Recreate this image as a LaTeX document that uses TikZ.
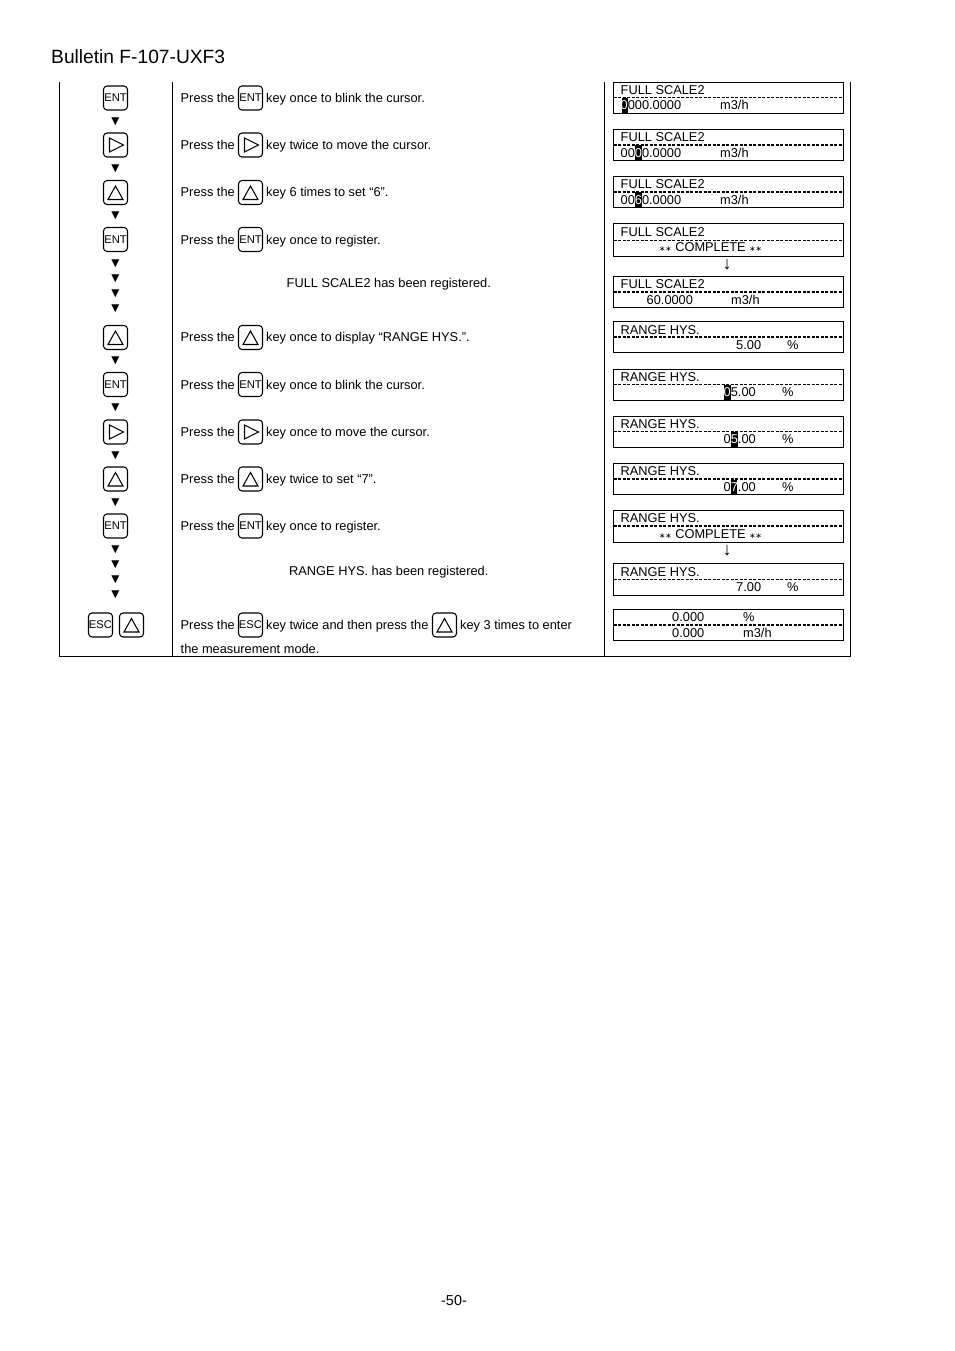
\documentclass[tikz,border=0pt]{standalone}
\usepackage{fontspec}
\usepackage{xcolor}
\setmainfont{Liberation Sans}
\newfontfamily\symfont{DejaVu Sans}
\usetikzlibrary{calc}
\tikzset{
 txt/.style={anchor=base west, inner sep=0, font=\fontsize{12.8}{15}\selectfont},
 keybox/.style={draw, rounded corners=3.5, minimum size=24, inner sep=0, outer sep=0, line width=1.05, font=\fontsize{11.2}{13}\selectfont},
 glyph/.style={draw, line width=1.05, line join=miter},
 stepmark/.style={inner sep=0, font=\symfont\fontsize{10.5}{12}\selectfont},
 cell/.style={draw, line width=.9, inner sep=0, outer sep=0, anchor=north west, minimum width=230},
}
\newcommand{\wt}[1]{\textcolor{white}{#1}}
\begin{document}
\begin{tikzpicture}[x=1pt,y=-1pt]
\useasboundingbox (0,0) rectangle (954,1351);
\node[txt, font=\fontsize{19.2}{22}\selectfont] (title) at (51,63.5) {Bulletin F-107-UXF3};
\node[txt, anchor=base, font=\fontsize{14.4}{16}\selectfont] (pageno) at (454,1305) {-50-};
\draw[line width=.9] (59.5,82)--(59.5,656.5)--(850.5,656.5)--(850.5,82);
\draw[line width=.9] (172.5,82)--(172.5,656.5);
\draw[line width=.9] (604.5,82)--(604.5,656.5);
\foreach \n/\x/\y/\t in {a/115.5/98/ENT,b/115.5/239.5/ENT,c/115.5/384.5/ENT,d/115.5/526/ENT,e/250.5/98/ENT,f/250.5/239.5/ENT,g/250.5/384.5/ENT,h/250.5/526/ENT,i/100.5/625/ESC,j/250.5/625/ESC} {
 \node[keybox] (key\n) at (\x,\y) {\t};
}
\foreach \n/\x/\y in {a/115.5/145,b/115.5/432,c/250.5/145,d/250.5/432} {
 \node[keybox] (right\n) at (\x,\y) {};
 \draw[glyph] ($(right\n)+(-6,-7)$)--++(0,14)--++(14,-7)--cycle;
}
\foreach \n/\x/\y in {a/115.5/192.5,b/115.5/337.5,c/115.5/479,d/131.5/625,e/250.5/192.5,f/250.5/337.5,g/250.5/479,h/444.5/625} {
 \node[keybox] (up\n) at (\x,\y) {};
 \draw[glyph] ($(up\n)+(0,-6.5)$)--++(7.5,13.5)--++(-15,0)--cycle;
}
\foreach \y in {122,169,216,264,279,294,309,361,408,456,503,550,565,580,595} {
 \node[stepmark] (mark\y) at (115.5,\y) {▼};
}
\foreach \y/\t in {102.5/key once to blink the cursor.,149.5/key twice to move the cursor.,196.7/key 6 times to set “6”.,244/key once to register.,341/key once to display “RANGE HYS.”.,389/key once to blink the cursor.,436/key once to move the cursor.,483/key twice to set “7”.,530/key once to register.} {
 \node[txt] (press\y) at (180.5,\y) {Press the};
 \node[txt] (act\y) at (266,\y) {\t};
}
\node[txt] (pressend) at (180.5,629.5) {Press the};
\node[txt] (actend) at (266,629.5) {key twice and then press the};
\node[txt] (actmore) at (460,629.5) {key 3 times to enter};
\node[txt] (actlast) at (180.5,653) {the measurement mode.};
\node[txt] (regfull) at (286.5,287) {FULL SCALE2 has been registered.};
\node[txt] (regrange) at (289,575) {RANGE HYS. has been registered.};
\foreach \x/\ya/\yb in {621.5/98/113.5,635/145.5/160,635/192.5/207.5,724/385/400,731/432/447,730.5/479.5/494} {
 \fill (\x,\ya) rectangle ++(6.8,\yb-\ya);
}
\foreach \n/\ya/\ym/\yb/\lw/\yt/\t in {a/82/97.7/113.5/1.2/94.5/FULL SCALE2,b/129.5/145/160.5/1.2/141.5/FULL SCALE2,c/176.5/192/207.5/1.2/188.5/FULL SCALE2,d/223.5/240/256/.7/236/FULL SCALE2,e/276.5/292/307.5/1.2/288/FULL SCALE2,f/321.5/337/352.5/1.2/334/RANGE HYS.,g/369/384.5/400.5/.7/381/RANGE HYS.,h/416/431.5/447.5/1.2/428/RANGE HYS.,i/463/479/494.5/1.2/475/RANGE HYS.,j/510/526/542/1.2/522.5/RANGE HYS.,k/563/579/595/.7/576/RANGE HYS.} {
 \node[cell, minimum height=\yb-\ya] (lcd\n) at (613.5,\ya) {};
 \draw[line width=\lw, dash pattern=on 3 off 1.5] (lcd\n.west |- 0,\ym)--(lcd\n.east |- 0,\ym);
 \node[txt] (name\n) at (620.5,\yt) {\t};
}
\node[cell, minimum height=31] (lcdl) at (613.5,609) {};
\draw[line width=1.2, dash pattern=on 3 off 1.5] (lcdl.west |- 0,625)--(lcdl.east |- 0,625);
\foreach \n/\x/\y/\t in {a/620.5/109.5/{\wt{0}000.0000},b/620.5/157.5/{00\wt{0}0.0000},c/620.5/204.5/{00\wt{6}0.0000},e/646.5/304/60.0000,f/736/349/5.00,g/723.5/396/{\wt{0}5.00},h/723.5/443/{0\wt{5}.00},i/723.5/491/{0\wt{7}.00},k/736/591/7.00,l/672/621.5/0.000,m/672/637/0.000} {
 \node[txt] (val\n) at (\x,\y) {\t};
}
\foreach \n/\x/\y/\t in {a/720/109.5/{m3/h},b/720/157.5/{m3/h},c/720/204.5/{m3/h},e/731/304/{m3/h},f/787/349/\%,g/782/396/\%,h/782/443/\%,i/782/491/\%,k/787/591/\%,l/743/621.5/\%,m/743/637/{m3/h}} {
 \node[txt] (unit\n) at (\x,\y) {\t};
}
\foreach \n/\y in {a/251,b/538} {
 \node[txt, anchor=base] (done\n) at (710.5,\y) {{\symfont\fontsize{7.5}{10}\selectfont ∗∗} COMPLETE {\symfont\fontsize{7.5}{10}\selectfont ∗∗}};
}
\node[txt, anchor=center, font=\fontsize{18}{20}\selectfont] (nexta) at (727,265) {↓};
\node[txt, anchor=center, font=\fontsize{18}{20}\selectfont] (nextb) at (727,551) {↓};
\end{tikzpicture}
\end{document}
